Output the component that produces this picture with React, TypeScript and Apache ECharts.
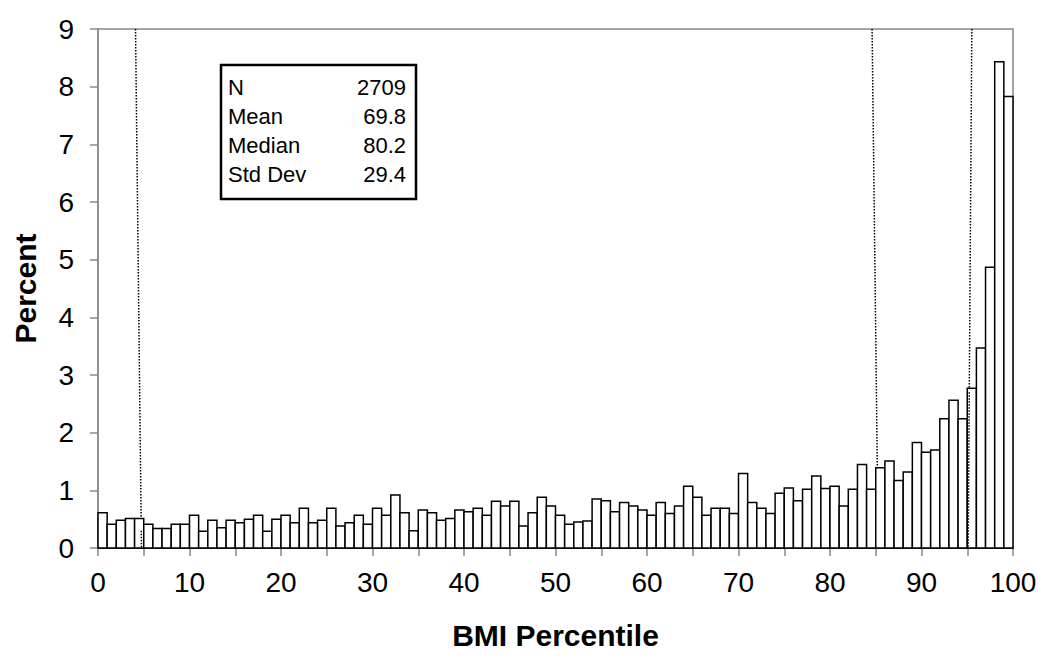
import React, { useEffect, useRef } from "react";
import * as echarts from "echarts";

const binStarts: number[] = Array.from({ length: 100 }, (_, i) => i);
const percentValues: number[] = [
  0.61, 0.41, 0.48, 0.51, 0.51, 0.41, 0.34, 0.34, 0.41, 0.41,
  0.57, 0.29, 0.48, 0.35, 0.48, 0.44, 0.5, 0.57, 0.29, 0.5,
  0.57, 0.44, 0.69, 0.44, 0.48, 0.69, 0.38, 0.44, 0.57, 0.41,
  0.69, 0.57, 0.92, 0.61, 0.3, 0.66, 0.61, 0.48, 0.51, 0.66,
  0.63, 0.69, 0.57, 0.81, 0.73, 0.81, 0.38, 0.61, 0.88, 0.73,
  0.57, 0.41, 0.45, 0.47, 0.85, 0.82, 0.63, 0.79, 0.73, 0.66,
  0.57, 0.79, 0.6, 0.73, 1.07, 0.88, 0.57, 0.69, 0.69, 0.6,
  1.29, 0.79, 0.69, 0.6, 0.95, 1.04, 0.82, 1.02, 1.25, 1.03,
  1.07, 0.73, 1.02, 1.45, 1.02, 1.39, 1.51, 1.17, 1.32, 1.83,
  1.66, 1.7, 2.24, 2.56, 2.24, 2.77, 3.47, 4.87, 8.43, 7.83,
];

// dotted reference lines (slightly slanted as in the scan): [xTop, yTop, xBottom, yBottom]
const cutLines: number[][] = [
  [4.1, 9, 4.75, 0],
  [84.6, 9, 85.2, 1.0],
  [95.5, 9, 95.1, 0],
];

const statLabels: string[] = ["N", "Mean", "Median", "Std Dev"];
const statValues: string[] = ["2709", "69.8", "80.2", "29.4"];

const xTitle = "BMI Percentile";
const yTitle = "Percent";

export default function App() {
  const ref = useRef<HTMLDivElement>(null);

  useEffect(() => {
    if (!ref.current) return;
    const chart = echarts.init(ref.current, undefined, { renderer: "svg" });
    const font = "'Liberation Sans', Arial, sans-serif";

    const histData = binStarts.map((s, i) => [s, percentValues[i]]);

    const lineSeries = cutLines.map((l) => ({
      type: "line",
      data: [
        [l[0], l[1]],
        [l[2], l[3]],
      ],
      symbol: "none",
      silent: true,
      z: 5,
      lineStyle: { color: "#000", width: 1.5, type: "dotted" },
    }));

    const boxLeft = 221;
    const boxTop = 65;
    const rowH = 29;
    const graphics: any[] = [
      {
        type: "rect",
        shape: { x: boxLeft, y: boxTop, width: 195, height: 134 },
        style: { fill: "#fff", stroke: "#000", lineWidth: 2.5 },
        z: 100,
      },
    ];
    statLabels.forEach((lab, i) => {
      graphics.push({
        type: "text",
        x: boxLeft + 7,
        y: boxTop + 22 + i * rowH,
        style: {
          text: lab,
          font: `22px ${font}`,
          fill: "#000",
          textAlign: "left",
          textVerticalAlign: "middle",
        },
        z: 101,
      });
      graphics.push({
        type: "text",
        x: boxLeft + 185,
        y: boxTop + 22 + i * rowH,
        style: {
          text: statValues[i],
          font: `22px ${font}`,
          fill: "#000",
          textAlign: "right",
          textVerticalAlign: "middle",
        },
        z: 101,
      });
    });

    chart.setOption({
      animation: false,
      backgroundColor: "#fff",
      textStyle: { fontFamily: font },
      grid: {
        left: 98,
        right: 37,
        top: 29,
        bottom: 113,
        show: true,
        borderColor: "#888",
        borderWidth: 1.5,
        backgroundColor: "transparent",
      },
      xAxis: {
        type: "value",
        min: 0,
        max: 100,
        interval: 5,
        name: xTitle,
        nameLocation: "middle",
        nameGap: 72,
        nameTextStyle: { fontSize: 30, fontWeight: "bold", color: "#000", fontFamily: font },
        axisLine: { show: true, lineStyle: { color: "#000", width: 1.5 } },
        axisTick: { show: true, length: 8, lineStyle: { color: "#888", width: 1.5 } },
        splitLine: { show: false },
        axisLabel: {
          fontSize: 28,
          color: "#000",
          margin: 20,
          fontFamily: font,
          formatter: (v: number) => (v % 10 === 0 ? String(v) : ""),
        },
      },
      yAxis: {
        type: "value",
        min: 0,
        max: 9,
        interval: 1,
        name: yTitle,
        nameLocation: "middle",
        nameGap: 58,
        nameRotate: 90,
        nameTextStyle: { fontSize: 30, fontWeight: "bold", color: "#000", fontFamily: font },
        axisLine: { show: true, lineStyle: { color: "#888", width: 1.5 } },
        axisTick: { show: true, length: 8, lineStyle: { color: "#888", width: 1.5 } },
        splitLine: { show: false },
        axisLabel: { fontSize: 28, color: "#000", margin: 24, fontFamily: font },
      },
      series: [
        ...lineSeries,
        {
          type: "custom",
          z: 10,
          data: histData,
          renderItem: (params: any, api: any) => {
            const x0 = api.value(0);
            const v = api.value(1);
            const p1 = api.coord([x0, v]);
            const p2 = api.coord([x0 + 1, 0]);
            return {
              type: "rect",
              shape: { x: p1[0], y: p1[1], width: p2[0] - p1[0], height: p2[1] - p1[1] },
              style: { fill: "#fff", stroke: "#000", lineWidth: 1.5 },
            };
          },
        },
        {
          type: "line",
          data: [
            [cutLines[0][0] + (cutLines[0][2] - cutLines[0][0]) * 0.97, cutLines[0][3] + 0.3],
            [cutLines[0][2], cutLines[0][3]],
          ],
          symbol: "none",
          silent: true,
          z: 20,
          lineStyle: { color: "#000", width: 1.5, type: "dotted" },
        },
        {
          type: "line",
          data: [
            [cutLines[2][0] + (cutLines[2][2] - cutLines[2][0]) * 0.7, cutLines[2][1] * 0.3],
            [cutLines[2][2], cutLines[2][3]],
          ],
          symbol: "none",
          silent: true,
          z: 20,
          lineStyle: { color: "#000", width: 1.5, type: "dotted" },
        },
      ],
      graphic: graphics,
    });

    return () => chart.dispose();
  }, []);

  return (
    <div
      ref={ref}
      style={{ position: "absolute", left: 0, top: 0, width: 1050, height: 661 }}
    />
  );
}
